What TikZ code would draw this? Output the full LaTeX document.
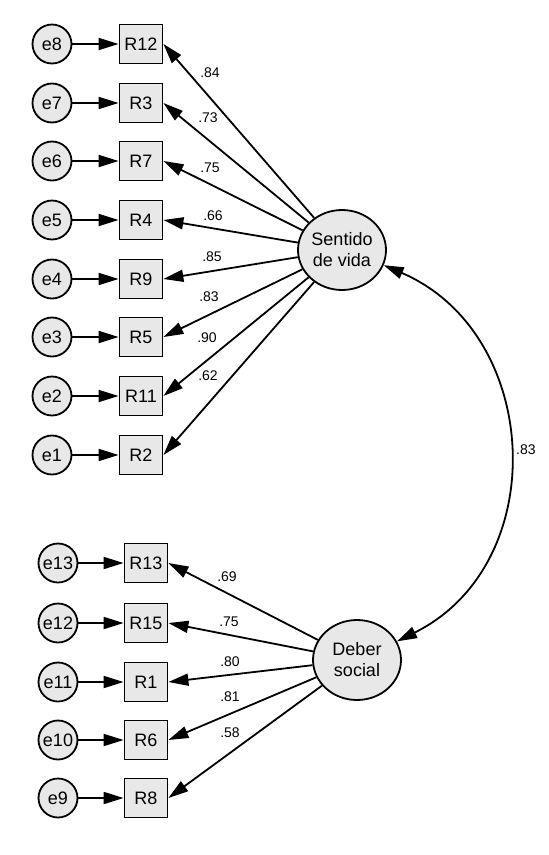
\documentclass[tikz,border=0pt]{standalone}
\usepackage{fontspec}
\setmainfont{Liberation Sans}
\usetikzlibrary{arrows.meta,shapes.geometric}

\definecolor{boxgray}{HTML}{E8E8E8}

\tikzset{
    err/.style={circle, draw, fill=boxgray, minimum size=39pt, inner sep=0pt,
        font=\fontsize{18}{21}\selectfont},
    obs/.style={rectangle, draw, fill=boxgray, minimum width=43pt, minimum height=39pt,
        inner sep=0pt, font=\fontsize{18}{21}\selectfont},
    lat/.style={ellipse, draw, fill=boxgray, minimum width=88pt, minimum height=80pt,
        inner sep=0pt, align=center, font=\fontsize{18}{21}\selectfont},
    coef/.style={inner sep=0pt, font=\fontsize{14}{16}\selectfont},
}

\begin{document}
\begin{tikzpicture}[x=1pt, y=-1pt, line width=1.8pt]

    \useasboundingbox (0,0) rectangle (549,855);

    \node[lat] (sentido) at (342,250) {Sentido\\de vida};
    \node[lat] (deber) at (357,660) {Deber\\social};

    \begin{scope}[>={Triangle[length=20pt,width=12pt]}]
        \foreach \r/\e/\y/\w/\lx/\ly in {R12/e8/44/.84/210/73, R3/e7/103/.73/208/118,
                R7/e6/161/.75/210/168, R4/e5/220/.66/213/216, R9/e4/279/.85/212/257,
                R5/e3/337/.83/209/297, R11/e2/396/.90/207/338, R2/e1/455/.62/208/376} {
            \node[err] (\e) at (52,\y) {\e};
            \node[obs] (\r) at (141,\y) {\r};
            \node[coef] (w\r) at (\lx,\ly) {\w};
            \draw [->] (\e) -- (\r);
            \draw [->] (sentido) -- (\r.east);
        }

        \foreach \r/\e/\y/\w/\lx/\ly in {R13/e13/563/.69/227/577, R15/e12/623/.75/229/622,
                R1/e11/682/.80/230/662, R6/e10/740/.81/230/697, R8/e9/798/.58/230/733} {
            \node[err] (\e) at (58,\y) {\e};
            \node[obs] (\r) at (146,\y) {\r};
            \node[coef] (w\r) at (\lx,\ly) {\w};
            \draw [->] (\e) -- (\r);
            \draw [->] (deber) -- (\r.east);
        }

        \draw [<->] (sentido.-20) .. controls (542,333) and (553,564)
            .. node[coef, midway, right=7pt] (wcorr) {.83} (deber.25);
    \end{scope}

\end{tikzpicture}
\end{document}
